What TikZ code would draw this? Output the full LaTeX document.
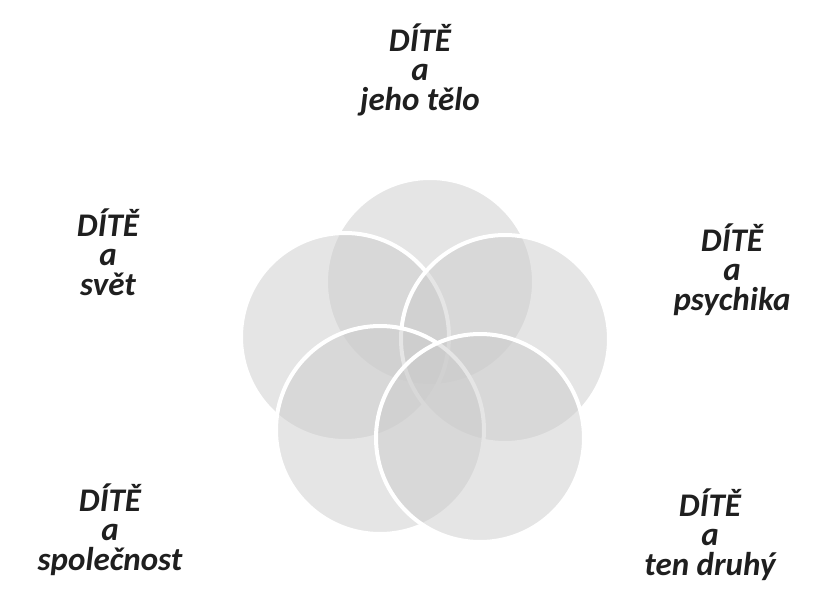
\documentclass[tikz,border=0pt]{standalone}
\usepackage{fontspec}
\setmainfont{Carlito}
\begin{document}
\begin{tikzpicture}[x=1pt,y=-1pt,
  ring/.style={circle, minimum size=208pt, inner sep=0pt, fill=black!20, fill opacity=0.5, draw=white, draw opacity=1, line width=4pt},
  lbl/.style={font=\fontsize{33}{29.5}\selectfont\bfseries\itshape, align=center, text=black!88, text opacity=1, anchor=base, inner sep=0pt}]
\useasboundingbox[fill=white] (0,0) rectangle (820,605);
% circles
\node[ring] (ctop) at (430,282) {};
\node[ring] (cleft) at (345,337) {};
\node[ring] (cright) at (505,339) {};
\node[ring] (cbl) at (380,430) {};
\node[ring] (cbr) at (480,438) {};
% labels (anchor at the baseline of the last line)
\node[lbl] (ltop) at (420,110) {DÍTĚ\\a\\jeho tělo};
\node[lbl] (lleft) at (108,295) {DÍTĚ\\a\\svět};
\node[lbl] (lright) at (732,310) {DÍTĚ\\a\\psychika};
\node[lbl] (lbl) at (110,570) {DÍTĚ\\a\\společnost};
\node[lbl] (lbr) at (710,575) {DÍTĚ\\a\\ten druhý};
\end{tikzpicture}
\end{document}
